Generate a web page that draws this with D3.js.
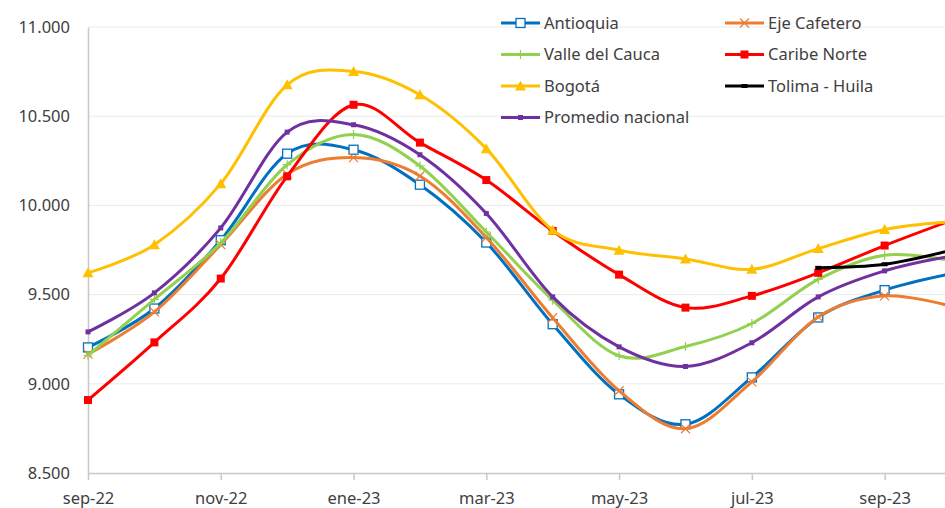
<!DOCTYPE html>
<html>
<head>
<meta charset="utf-8">
<script src="https://cdn.jsdelivr.net/npm/d3@7.9.0/dist/d3.min.js"></script>
<style>
  html, body { margin: 0; padding: 0; background: #fff; }
  svg { display: block; overflow: hidden; }
  text { font-family: "Segoe UI", "Noto Sans", "Open Sans", sans-serif; fill: #404040; }
</style>
</head>
<body>
<svg id="chart" width="945" height="508"></svg>
<script>
// months shown on the x axis (one point per month)
const months = ['sep-22', 'oct-22', 'nov-22', 'dic-22', 'ene-23', 'feb-23', 'mar-23',
  'abr-23', 'may-23', 'jun-23', 'jul-23', 'ago-23', 'sep-23', 'oct-23'];
const tickMonths = ['sep-22', 'nov-22', 'ene-23', 'mar-23', 'may-23', 'jul-23', 'sep-23'];
const yTicks = [8500, 9000, 9500, 10000, 10500, 11000];

const antioquia = [9204, 9422, 9805, 10290, 10312, 10116, 9792, 9334, 8941, 8773, 9036, 9372, 9525, 9617];
const ejeCafetero = [9166, 9403, 9780, 10175, 10268, 10165, 9820, 9370, 8961, 8748, 9011, 9375, 9493, 9435];
const valleDelCauca = [9160, 9473, 9790, 10228, 10398, 10221, 9851, 9469, 9157, 9209, 9338, 9585, 9721, 9690];
const caribeNorte = [8909, 9232, 9590, 10163, 10564, 10352, 10142, 9857, 9612, 9427, 9493, 9622, 9775, 9915];
const bogota = [9622, 9780, 10122, 10676, 10751, 10620, 10318, 9861, 9749, 9700, 9642, 9758, 9865, 9908];
const tolimaHuila = [null, null, null, null, null, null, null, null, null, null, null, 9650, 9670, 9749];
const promedio = [9291, 9510, 9874, 10411, 10452, 10284, 9955, 9487, 9207, 9097, 9230, 9487, 9633, 9715];

const series = [
  { name: 'Antioquia', values: antioquia, color: '#0070C0', marker: 'openSquare' },
  { name: 'Eje Cafetero', values: ejeCafetero, color: '#ED7D31', marker: 'x' },
  { name: 'Valle del Cauca', values: valleDelCauca, color: '#92D050', marker: 'plus' },
  { name: 'Caribe Norte', values: caribeNorte, color: '#FF0000', marker: 'square' },
  { name: 'Bogotá', values: bogota, color: '#FFC000', marker: 'triangle' },
  { name: 'Tolima - Huila', values: tolimaHuila, color: '#000000', marker: 'dash' },
  { name: 'Promedio nacional', values: promedio, color: '#7030A0', marker: 'dot' }
];

const svg = d3.select('#chart');
const plotLeft = 88, plotRight = 951, plotTop = 27, plotBottom = 473;

const x = d3.scalePoint().domain(months).range([plotLeft, plotRight]);
const y = d3.scaleLinear().domain([8500, 11000]).range([plotBottom, plotTop]);

const es = d3.formatLocale({ decimal: ',', thousands: '.', grouping: [3], currency: ['$', ''] });
const fmt = es.format(',.0f');

// gridlines
svg.append('g')
  .selectAll('line')
  .data(yTicks.slice(1))
  .join('line')
  .attr('x1', plotLeft).attr('x2', 945)
  .attr('y1', d => y(d)).attr('y2', d => y(d))
  .attr('stroke', '#ebebeb').attr('stroke-width', 1);

// y axis
const yAxis = svg.append('g')
  .attr('transform', `translate(${plotLeft},0)`)
  .call(d3.axisLeft(y).tickValues(yTicks).tickFormat(fmt).tickSize(0).tickPadding(18));
yAxis.select('.domain').attr('stroke', '#c8c8c8').attr('stroke-width', 1.5);
yAxis.selectAll('text').style('font-size', '16.5px').attr('fill', '#404040');

// x axis
const xAxis = svg.append('g')
  .attr('transform', `translate(0,${plotBottom})`)
  .call(d3.axisBottom(x).tickValues(tickMonths).tickSize(7).tickPadding(12).tickSizeOuter(0));
xAxis.select('.domain').attr('stroke', '#c8c8c8').attr('stroke-width', 1.5);
xAxis.selectAll('.tick line').attr('stroke', '#c8c8c8').attr('stroke-width', 1.5);
xAxis.selectAll('text').style('font-size', '16.5px').attr('fill', '#404040');

const line = d3.line()
  .defined(d => d.v != null)
  .x(d => x(d.m))
  .y(d => y(d.v))
  .curve(d3.curveCatmullRom.alpha(0));

function drawMarker(g, type, color, cx, cy) {
  if (type === 'openSquare') {
    g.append('rect').attr('x', cx - 4.5).attr('y', cy - 4.5).attr('width', 9).attr('height', 9)
      .attr('fill', '#fff').attr('stroke', color).attr('stroke-width', 1.3);
  } else if (type === 'square') {
    g.append('rect').attr('x', cx - 4).attr('y', cy - 4).attr('width', 8).attr('height', 8)
      .attr('fill', color);
  } else if (type === 'x') {
    g.append('path').attr('d', `M${cx - 4.5},${cy - 4.5}L${cx + 4.5},${cy + 4.5}M${cx - 4.5},${cy + 4.5}L${cx + 4.5},${cy - 4.5}`)
      .attr('stroke', color).attr('stroke-width', 1.2).attr('fill', 'none');
  } else if (type === 'plus') {
    g.append('path').attr('d', `M${cx - 4.5},${cy}L${cx + 4.5},${cy}M${cx},${cy - 4.5}L${cx},${cy + 4.5}`)
      .attr('stroke', color).attr('stroke-width', 1.2).attr('fill', 'none');
  } else if (type === 'triangle') {
    g.append('path').attr('d', `M${cx},${cy - 5.5}L${cx + 5.5},${cy + 4.5}L${cx - 5.5},${cy + 4.5}Z`)
      .attr('fill', color);
  } else if (type === 'dot') {
    g.append('rect').attr('x', cx - 2.5).attr('y', cy - 2.5).attr('width', 5).attr('height', 5)
      .attr('fill', color);
  } else if (type === 'dash') {
    g.append('rect').attr('x', cx - 3).attr('y', cy - 2).attr('width', 6).attr('height', 4)
      .attr('fill', color);
  }
}

// series lines + markers
series.forEach(s => {
  const pts = months.map((m, i) => ({ m, v: s.values[i] }));
  const g = svg.append('g');
  g.append('path')
    .attr('d', line(pts))
    .attr('fill', 'none')
    .attr('stroke', s.color)
    .attr('stroke-width', 3)
    .attr('stroke-linejoin', 'round')
    .attr('stroke-linecap', 'round');
  pts.filter(p => p.v != null).forEach(p => drawMarker(g, s.marker, s.color, x(p.m), y(p.v)));
});

// legend, two columns
const legend = svg.append('g');
series.forEach((s, i) => {
  const col = i % 2, row = Math.floor(i / 2);
  const lx = col === 0 ? 501 : 725;
  const ly = 23 + row * 31.5;
  const item = legend.append('g');
  item.append('line')
    .attr('x1', lx).attr('x2', lx + 39).attr('y1', ly).attr('y2', ly)
    .attr('stroke', s.color).attr('stroke-width', 3);
  drawMarker(item, s.marker, s.color, lx + 19.5, ly);
  item.append('text')
    .attr('x', lx + 43).attr('y', ly)
    .attr('dy', '0.35em')
    .style('font-size', '16.5px')
    .attr('fill', '#262626')
    .text(s.name);
});
</script>
</body>
</html>
